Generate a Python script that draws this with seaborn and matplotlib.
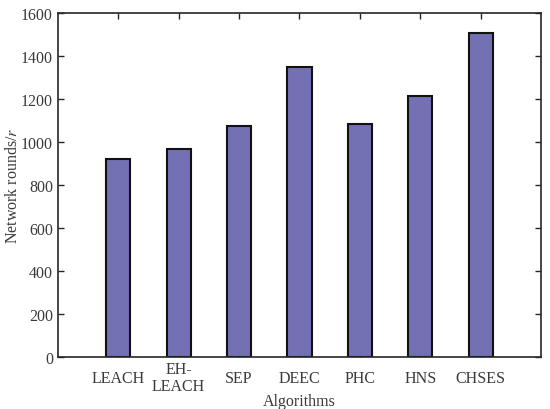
import numpy as np
import pandas as pd
import seaborn as sns
import matplotlib
matplotlib.use('Agg')
from matplotlib import pyplot as plt

algorithms = ['LEACH', 'EH-\nLEACH', 'SEP', 'DEEC', 'PHC', 'HNS', 'CHSES']
rounds = [921, 967, 1074, 1349, 1084, 1214, 1507]

sns.set_style('ticks')
plt.rcParams['font.family'] = ['Liberation Serif', 'DejaVu Serif']
plt.rcParams['mathtext.fontset'] = 'stix'

df = pd.DataFrame({'alg': algorithms, 'rounds': rounds})

fig = plt.figure(figsize=(5.5, 4.1), dpi=100)
ax = fig.add_axes([0.105, 0.127, 0.879, 0.839])
sns.barplot(data=df, x='alg', y='rounds', color='#7470b4', saturation=1,
            width=0.4, edgecolor='#111111', linewidth=1.5, ax=ax)
ax.set_xlim(-1, 7)
ax.set_ylim(0, 1600)
ax.set_yticks(np.arange(0, 1601, 200))
ax.set_ylabel('Network rounds/$r$', fontsize=11.5, color='#3a3a3a', labelpad=0)
ax.tick_params(direction='in', top=True, right=True, length=4, width=1,
               labelsize=11.5, labelcolor='#3a3a3a')
ax.tick_params(axis='x', pad=15)
for lbl in ax.get_xticklabels():
    lbl.set_va('center')
    lbl.set_linespacing(1.1)
ax.set_xlabel('Algorithms', fontsize=11.5, color='#3a3a3a', labelpad=-1)
for s in ax.spines.values():
    s.set_linewidth(1.2)
    s.set_visible(True)

fig.savefig('out.png', dpi=100)
